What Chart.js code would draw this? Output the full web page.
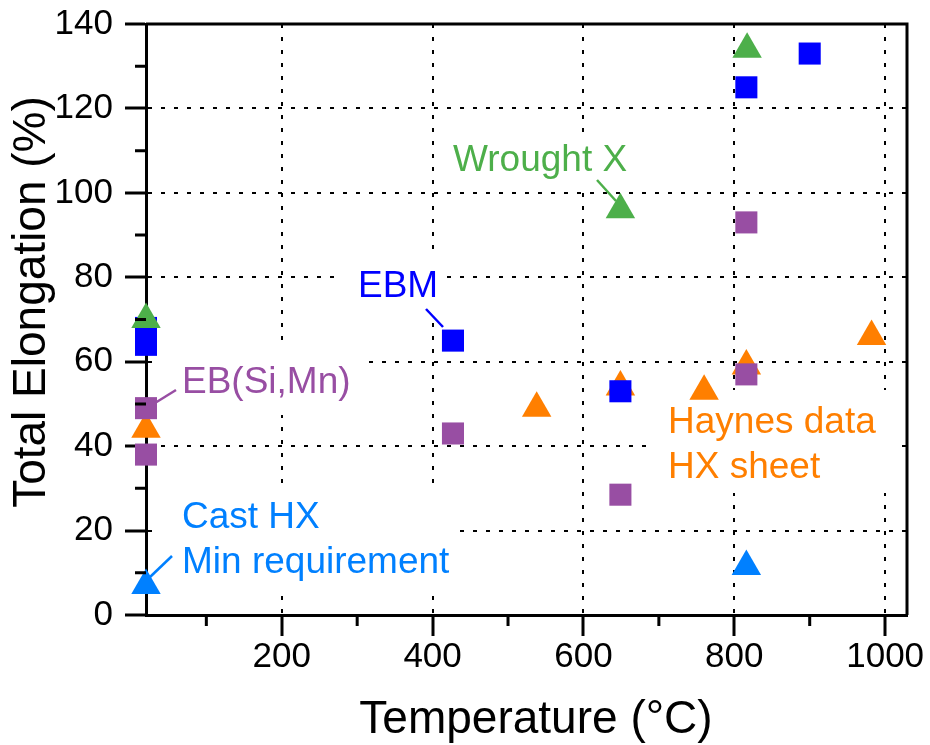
<!DOCTYPE html>
<html lang="en">
<head>
<meta charset="UTF-8">
<title>Total Elongation vs Temperature</title>
<script src="https://cdn.jsdelivr.net/npm/chart.js"></script>
<style>
    body, html {
        margin: 0;
        padding: 0;
        background: #fff;
        overflow: hidden;
    }
    canvas { display: block; }
</style>
</head>
<body>
<canvas id="chart" width="930" height="745"></canvas>
<script>
    // data (temperature in °C, elongation in %)
    const wroughtTemp = [20, 649, 817];
    const wroughtElong = [70, 96, 134];
    const ebmTemp = [20, 20, 427, 649, 816, 900];
    const ebmElong = [68, 64, 65, 53, 125, 133];
    const ebSiMnTemp = [20, 20, 427, 649, 816, 816];
    const ebSiMnElong = [49, 38, 43, 28.5, 93, 57];
    const castTemp = [20, 816];
    const castElong = [7, 11.5];
    const haynesTemp = [20, 538, 649, 760, 816, 982];
    const haynesElong = [44, 49, 54, 53, 59, 66];

    const xTicks = [200, 400, 600, 800, 1000];
    const xMinorTicks = [100, 300, 500, 700, 900];
    const yTicks = [0, 20, 40, 60, 80, 100, 120, 140];
    const yMinorTicks = [10, 30, 50, 70, 90, 110, 130];

    const FONT = "'Liberation Sans', Arial, Helvetica, sans-serif";

    function pts(xs, ys) {
        return xs.map((x, i) => ({x: x, y: ys[i]}));
    }

    // text labels drawn on the plot, with white boxes hiding the grid behind them
    const notes = [
        {lines: ['Wrought X'], color: '#4daf4a', x: 453, y: 171, box: [443, 133, 193, 52], lead: [597, 180, 616, 201]},
        {lines: ['EBM'], color: '#0000ff', x: 358, y: 297, box: [343, 258, 104, 58], lead: [426, 309, 443, 327]},
        {lines: ['EB(Si,Mn)'], color: '#984ea3', x: 182, y: 393, box: [158, 348, 210, 67], lead: [176, 390, 155, 403]},
        {lines: ['Cast HX', 'Min requirement'], color: '#0080ff', x: 182, y: 528, box: [158, 483, 297, 107], lead: [172, 556, 149, 578]},
        {lines: ['Haynes data', 'HX sheet'], color: '#ff7f00', x: 668, y: 433, box: [653, 390, 240, 103]}
    ];

    const overlay = {
        id: 'overlay',
        beforeDatasetsDraw(chart) {
            const ctx = chart.ctx;
            ctx.save();
            ctx.fillStyle = '#fff';
            notes.forEach(n => ctx.fillRect(n.box[0], n.box[1], n.box[2], n.box[3]));
            ctx.restore();
        },
        afterDraw(chart) {
            const ctx = chart.ctx;
            const a = chart.chartArea;
            const xs = chart.scales.x, ys = chart.scales.y;
            ctx.save();

            // top and right frame
            ctx.strokeStyle = '#000';
            ctx.lineWidth = 3;
            ctx.beginPath();
            ctx.moveTo(a.left, a.top);
            ctx.lineTo(a.right, a.top);
            ctx.lineTo(a.right, a.bottom);
            ctx.stroke();

            // minor ticks
            ctx.beginPath();
            xMinorTicks.forEach(v => {
                const px = xs.getPixelForValue(v);
                ctx.moveTo(px, a.bottom);
                ctx.lineTo(px, a.bottom + 11);
            });
            yMinorTicks.forEach(v => {
                const py = ys.getPixelForValue(v);
                ctx.moveTo(a.left, py);
                ctx.lineTo(a.left - 11, py);
            });
            ctx.stroke();

            // annotations
            ctx.font = '37px ' + FONT;
            ctx.textBaseline = 'alphabetic';
            ctx.textAlign = 'left';
            notes.forEach(n => {
                ctx.fillStyle = n.color;
                n.lines.forEach((t, i) => ctx.fillText(t, n.x, n.y + i * 45));
                if (n.lead) {
                    ctx.strokeStyle = n.color;
                    ctx.lineWidth = 2.5;
                    ctx.beginPath();
                    ctx.moveTo(n.lead[0], n.lead[1]);
                    ctx.lineTo(n.lead[2], n.lead[3]);
                    ctx.stroke();
                }
            });

            // axis titles
            ctx.fillStyle = '#000';
            ctx.font = '46px ' + FONT;
            ctx.textAlign = 'center';
            ctx.fillText('Temperature (°C)', 536, 733);
            ctx.translate(45, 302);
            ctx.rotate(-Math.PI / 2);
            ctx.fillText('Total Elongation (%)', 0, 0);
            ctx.restore();
        }
    };

    new Chart(document.getElementById('chart').getContext('2d'), {
        type: 'scatter',
        data: {
            datasets: [
                {label: 'Wrought X', data: pts(wroughtTemp, wroughtElong), pointStyle: 'triangle', pointRadius: 17, backgroundColor: '#4daf4a'},
                {label: 'EBM', data: pts(ebmTemp, ebmElong), pointStyle: 'rect', pointRadius: 15.6, backgroundColor: '#0000ff'},
                {label: 'EB(Si,Mn)', data: pts(ebSiMnTemp, ebSiMnElong), pointStyle: 'rect', pointRadius: 15.6, backgroundColor: '#984ea3'},
                {label: 'Cast HX', data: pts(castTemp, castElong), pointStyle: 'triangle', pointRadius: 17, backgroundColor: '#0080ff'},
                {label: 'Haynes HX sheet', data: pts(haynesTemp, haynesElong), pointStyle: 'triangle', pointRadius: 17, backgroundColor: '#ff7f00'}
            ].map(d => Object.assign(d, {borderWidth: 0, pointHoverRadius: d.pointRadius, clip: false}))
        },
        options: {
            responsive: false,
            animation: false,
            events: [],
            layout: {padding: {top: 24, right: 23, left: 0, bottom: 0}},
            plugins: {
                legend: {display: false},
                tooltip: {enabled: false}
            },
            scales: {
                x: {
                    type: 'linear',
                    min: 20,
                    max: 1029,
                    afterBuildTicks: s => { s.ticks = xTicks.map(v => ({value: v})); },
                    afterFit: s => { s.height = 130; },
                    ticks: {
                        color: '#000',
                        font: {family: FONT, size: 35, lineHeight: 1},
                        padding: 4,
                        maxRotation: 0,
                        callback: v => String(v)
                    },
                    grid: {color: '#000', lineWidth: 2, tickLength: 21, tickWidth: 3, tickColor: '#000'},
                    border: {color: '#000', width: 3, dash: [4, 9]}
                },
                y: {
                    min: 0,
                    max: 140,
                    afterBuildTicks: s => { s.ticks = yTicks.map(v => ({value: v})); },
                    afterFit: s => { s.width = 146; },
                    ticks: {
                        color: '#000',
                        font: {family: FONT, size: 35, lineHeight: 0.5},
                        padding: 12,
                        callback: v => String(v)
                    },
                    grid: {color: '#000', lineWidth: 2, tickLength: 21, tickWidth: 3, tickColor: '#000'},
                    border: {color: '#000', width: 3, dash: [4, 9]}
                }
            }
        },
        plugins: [overlay]
    });
</script>
</body>
</html>
